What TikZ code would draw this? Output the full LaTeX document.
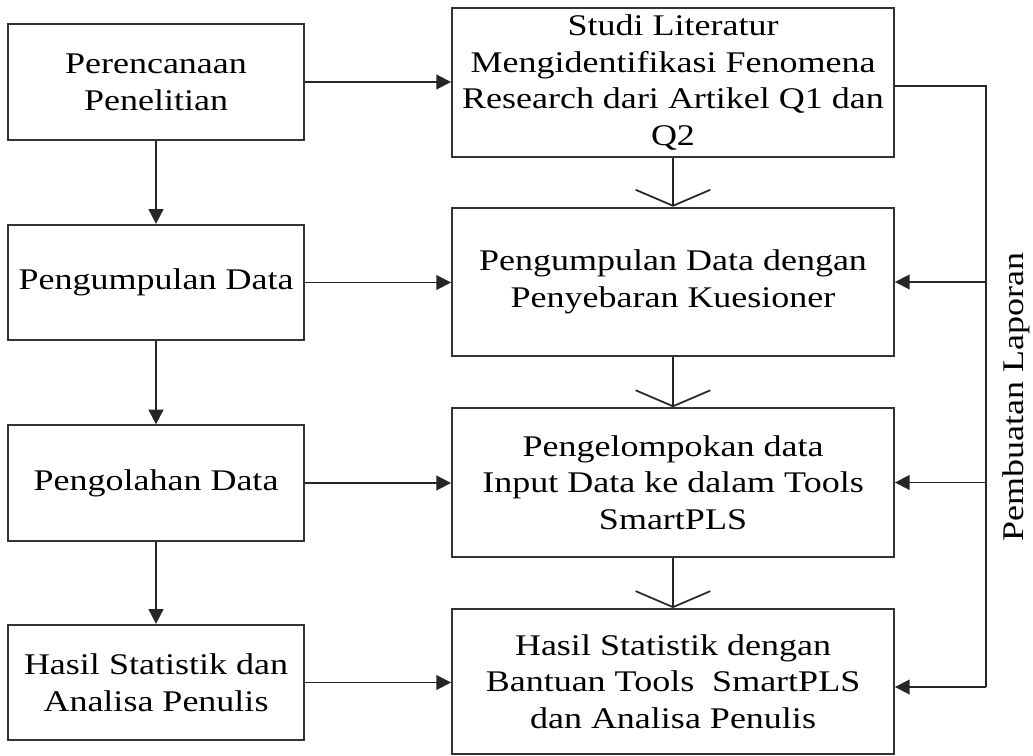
\documentclass[tikz,border=0pt]{standalone}
\usepackage{fontspec}
\setmainfont{Liberation Serif}[FakeStretch=1.2]
\usetikzlibrary{arrows.meta}

\begin{document}
\begin{tikzpicture}[
  x=0.75pt, y=-0.75pt,
  every node/.style={font=\fontsize{22.5}{27.5}\selectfont, align=center, inner sep=0pt},
  leftbox/.style={draw=black!80, line width=1.4pt, minimum width=222pt, minimum height=86.5pt},
  rightbox/.style={draw=black!80, line width=1.4pt, minimum width=331.5pt, minimum height=111.5pt},
  conn/.style={draw=black!85, line width=1.3pt},
  solidarr/.style={conn, -{Triangle[length=11pt, width=11pt]}},
  openarr/.style={conn, -{Straight Barb[length=12pt, width=56pt, line width=1.3pt]}}
]
  % canvas
  \path[use as bounding box, fill=white] (0,0) rectangle (1033,756);

  % left column: main stages
  \node[leftbox] (L1) at (156,82)    {Perencanaan\\Penelitian};
  \node[leftbox] (L2) at (156,282.5) {Pengumpulan Data};
  \node[leftbox] (L3) at (156,483)   {Pengolahan Data};
  \node[leftbox] (L4) at (156,682.5) {Hasil Statistik dan\\Analisa Penulis};

  % right column: activities of each stage
  \node[rightbox] (R1) at (673,82.5)  {Studi Literatur\\Mengidentifikasi Fenomena\\Research dari Artikel Q1 dan\\Q2};
  \node[rightbox] (R2) at (673,282)   {Pengumpulan Data dengan\\Penyebaran Kuesioner};
  \node[rightbox] (R3) at (673,482.5) {Pengelompokan data\\Input Data ke dalam Tools\\SmartPLS};
  \node[rightbox, minimum height=108.75pt] (R4) at (673,681.5) {Hasil Statistik dengan\\Bantuan Tools\ \ SmartPLS\\dan Analisa Penulis};

  % report label
  \node[rotate=90] (lap) at (1016,397) {Pembuatan Laporan};

  % left column flow
  \draw[solidarr] (L1) -- (L2);
  \draw[solidarr] (L2) -- (L3);
  \draw[solidarr] (L3) -- (L4);

  % stage to activity
  \draw[solidarr] (L1.east) -- (L1.east -| R1.west);
  \draw[solidarr] (L2.east) -- (L2.east -| R2.west);
  \draw[solidarr] (L3.east) -- (L3.east -| R3.west);
  \draw[solidarr] (L4.east) -- (L4.east -| R4.west);

  % activity flow
  \draw[openarr] (R1) -- (R2);
  \draw[openarr] (R2) -- (R3);
  \draw[openarr] (R3) -- (R4);

  % reporting bus on the right
  \coordinate (bt) at (986,86);
  \coordinate (bb) at (986,687);
  \draw[conn] (bt -| R1.east) -- (bt) -- (bb);
  \draw[solidarr] (bt |- R2.east) -- (R2.east);
  \draw[solidarr] (bt |- R3.east) -- (R3.east);
  \draw[solidarr] (bb) -- (bb -| R4.east);
\end{tikzpicture}
\end{document}
